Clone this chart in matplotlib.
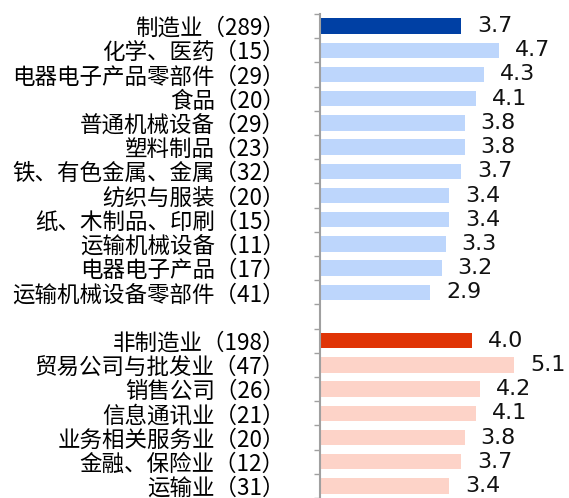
import matplotlib
matplotlib.use("Agg")
from matplotlib import pyplot as plt
import numpy as np

plt.rcParams['font.family'] = ['Noto Sans CJK SC', 'DejaVu Sans']

# manufacturing group (first row is the total)
mfg_labels = ["制造业（289）", "化学、医药（15）", "电器电子产品零部件（29）", "食品（20）",
              "普通机械设备（29）", "塑料制品（23）", "铁、有色金属、金属（32）", "纺织与服装（20）",
              "纸、木制品、印刷（15）", "运输机械设备（11）", "电器电子产品（17）",
              "运输机械设备零部件（41）"]
mfg_values = [3.7, 4.7, 4.3, 4.1, 3.8, 3.8, 3.7, 3.4, 3.4, 3.3, 3.2, 2.9]

# non-manufacturing group (first row is the total)
non_labels = ["非制造业（198）", "贸易公司与批发业（47）", "销售公司（26）", "信息通讯业（21）",
              "业务相关服务业（20）", "金融、保险业（12）", "运输业（31）"]
non_values = [4.0, 5.1, 4.2, 4.1, 3.8, 3.7, 3.4]

# one empty row between the groups
labels = mfg_labels + [""] + non_labels
values = mfg_values + [np.nan] + non_values
colors = (["#0040a4"] + ["#bdd6fc"] * (len(mfg_values) - 1) + ["none"]
          + ["#e03406"] + ["#fdd3c8"] * (len(non_values) - 1))

W, H = 569, 498
fig = plt.figure(figsize=(W / 100, H / 100), dpi=100)
ax_left = 319.5 / W
ax_top = 1 - 14 / H
ax = fig.add_axes([ax_left, 0, 1 - ax_left, ax_top])

y = np.arange(len(labels))
bar_vals = [0 if np.isnan(v) else v for v in values]
ax.barh(y, bar_vals, height=0.63, color=colors)

px_per_unit = 38.2
ax.set_xlim(0, (W - 319.5) / px_per_unit)
# the chart is cut off at the bottom, half way through the last row
ax.set_ylim(19.46, -0.5)

# value labels to the right of each bar
offset = 16 / px_per_unit
for yi, v in zip(y, values):
    if np.isnan(v):
        continue
    ax.text(v + offset, yi, f"{v:.1f}", va="center", ha="left",
            fontsize=16, family="DejaVu Sans", color="#111111")

ax.set_yticks(y)
ax.set_yticklabels(labels, fontsize=16.2)
ax.tick_params(axis="y", which="major", length=0, pad=25)
ax.set_yticks(np.arange(-0.5, len(labels), 1), minor=True)
ax.tick_params(axis="y", which="minor", length=4.5, width=1, color="#a0a0a0")

ax.set_xticks([])
for side in ["top", "right", "bottom"]:
    ax.spines[side].set_visible(False)
ax.spines["left"].set_color("#a0a0a0")
ax.spines["left"].set_linewidth(1.5)

fig.savefig("out.png", dpi=100)
